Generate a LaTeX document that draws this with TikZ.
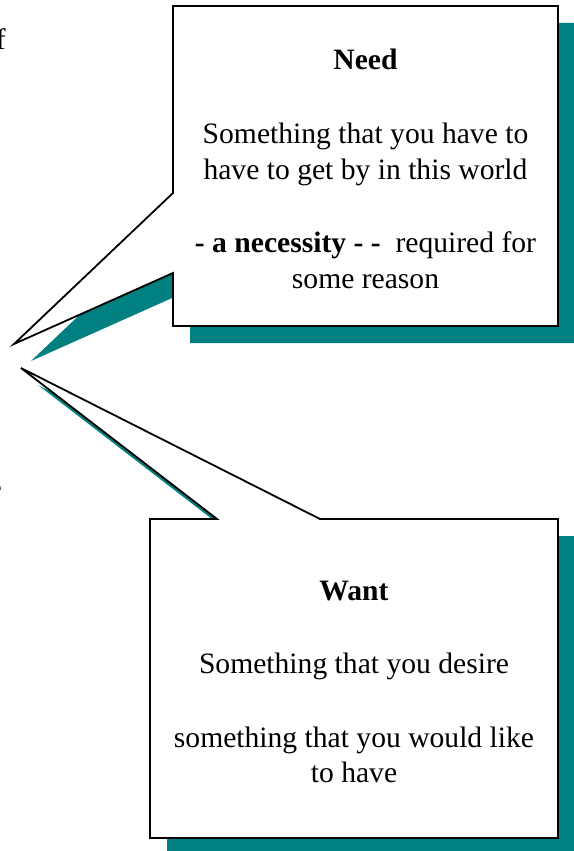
\documentclass[tikz,border=0pt]{standalone}
\usepackage{fontspec}
\setmainfont{Liberation Serif}
\definecolor{shadowteal}{RGB}{0,128,128}
\tikzset{
  shadowshape/.style={fill=shadowteal, draw=none},
  calloutshape/.style={fill=white, draw=black, line width=1.8pt, line join=miter},
  txt/.style={inner sep=0pt, anchor=base, font=\fontsize{29.6}{36}\selectfont},
  frag/.style={inner sep=0pt, anchor=base east, font=\fontsize{29.6}{36}\selectfont}
}
\begin{document}
\begin{tikzpicture}[x=1pt,y=-1pt]
\useasboundingbox (0,0) rectangle (573,851);
% Need callout
\fill[shadowshape, shift={(17,17)}] (173,6) -- (558,6) -- (558,326) -- (173,326) -- (173,273) -- (14,344) -- (173,193) -- cycle;
\draw[calloutshape] (173,6) -- (558,6) -- (558,326) -- (173,326) -- (173,273) -- (14,344) -- (173,193) -- cycle;
% Want callout
\fill[shadowshape, shift={(17,17)}] (150,519) -- (217,519) -- (21,368) -- (320,519) -- (558,519) -- (558,838) -- (150,838) -- cycle;
\draw[calloutshape] (150,519) -- (217,519) -- (21,368) -- (320,519) -- (558,519) -- (558,838) -- (150,838) -- cycle;
% Need text
\node[txt] (needtitle) at (365.5,70) {\textbf{Need}};
\node[txt] (needa) at (365.5,143) {Something that you have to};
\node[txt] (needb) at (365.5,179) {have to get by in this world};
\node[txt] (needc) at (365.5,252) {\textbf{- a necessity - -}\ \ required for};
\node[txt] (needd) at (365.5,288) {some reason};
% Want text
\node[txt] (wanttitle) at (354,600) {\textbf{Want}};
\node[txt] (wanta) at (354,673) {Something that you desire};
\node[txt] (wantb) at (354,747) {something that you would like};
\node[txt] (wantc) at (354,782) {to have};
% cut-off fragments at the left edge (as in the reference)
\node[frag] (fraga) at (6,50) {of};
\node[frag] (fragb) at (2,497) {e};
\end{tikzpicture}
\end{document}
